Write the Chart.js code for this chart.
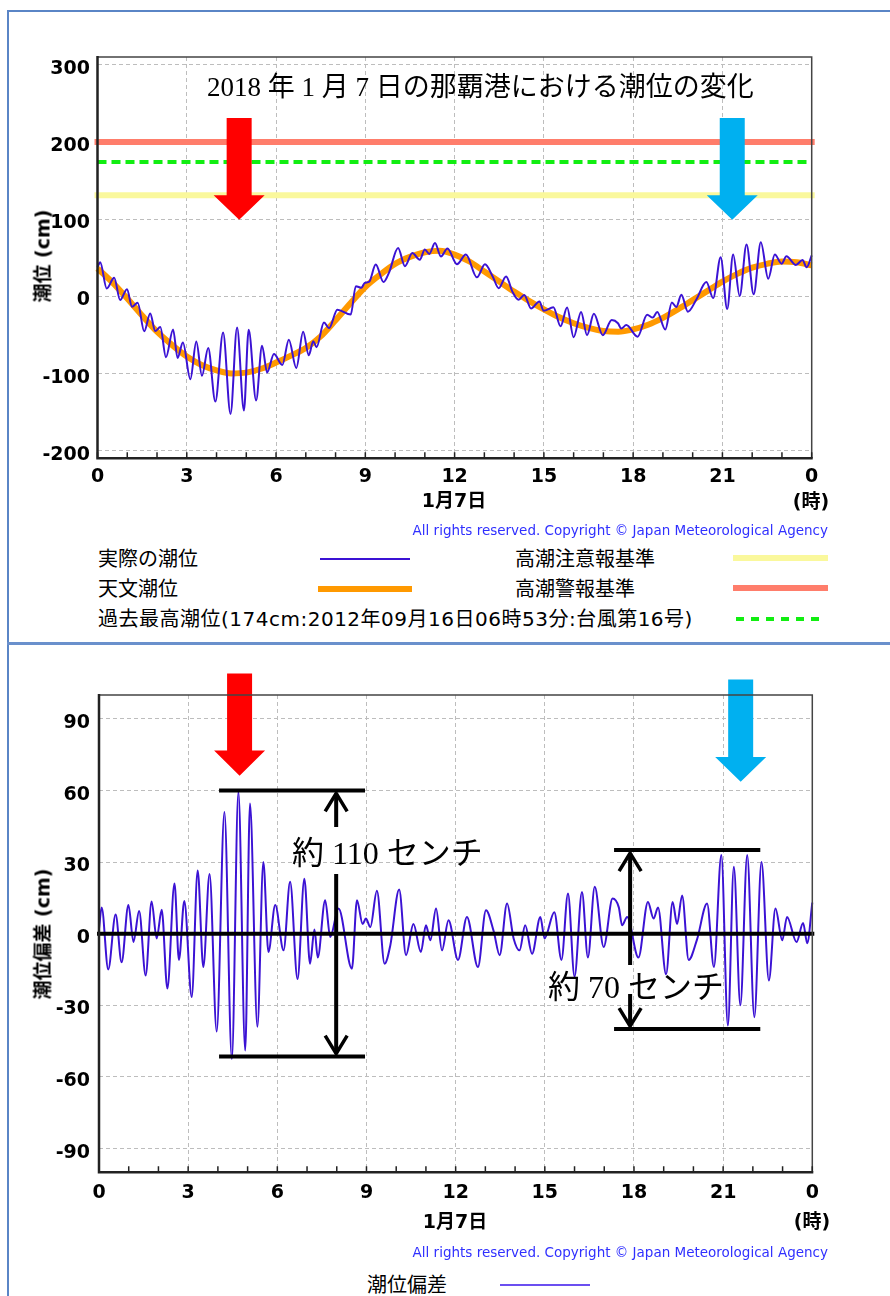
<!DOCTYPE html>
<html><head><meta charset="utf-8">
<script src="https://cdn.jsdelivr.net/npm/chart.js@4.4.1/dist/chart.umd.min.js"></script>
<style>
html,body{margin:0;padding:0;background:#fff;}
body{width:890px;height:1296px;position:relative;overflow:hidden;font-family:"DejaVu Sans","Noto Sans CJK JP",sans-serif;color:#000;}
.t{position:absolute;white-space:nowrap;line-height:1;}
.cjk{font-family:"DejaVu Sans","Noto Sans CJK JP",sans-serif;font-size:20px;transform:translateY(-50%);}
.bold{font-weight:bold;font-size:19px;font-family:"DejaVu Sans","Noto Sans CJK JP",sans-serif;}
.serif{font-family:"Liberation Serif","Noto Sans CJK JP",serif;}
.copy{font-size:13.5px;color:#3030ff;font-family:"DejaVu Sans",sans-serif;transform:translate(-100%,-50%);}
canvas{position:absolute;left:0;}
.bar{position:absolute;}
</style>
</head><body>
<div class="bar" style="left:7px;top:10px;width:2px;height:1290px;background:#5a85c6;"></div>
<div class="bar" style="left:7px;top:10px;width:890px;height:2px;background:#5a85c6;"></div>
<div class="bar" style="left:7px;top:642px;width:890px;height:3px;background:#6a90cc;"></div>

<canvas id="c1" width="890" height="490" style="top:0;"></canvas>
<canvas id="c2" width="890" height="580" style="top:640px;"></canvas>

<div class="t serif" style="left:207px;top:87px;font-size:27px;transform:translateY(-50%);">2018 年 1 月 7 日の那覇港における潮位の変化</div>
<div class="t bold" style="left:43px;top:256px;transform:translate(-50%,-50%) rotate(-90deg);">潮位 (cm)</div>
<div class="t bold" style="left:454px;top:500px;transform:translate(-50%,-50%);">1月7日</div>
<div class="t bold" style="left:811px;top:501px;transform:translate(-50%,-50%);">(時)</div>
<div class="t copy" style="left:828px;top:531px;">All rights reserved. Copyright © Japan Meteorological Agency</div>

<div class="t cjk" style="left:98px;top:559px;">実際の潮位</div>
<div class="bar" style="left:320px;top:558px;width:90px;height:2px;background:#3b12d4;"></div>
<div class="t cjk" style="left:98px;top:589px;">天文潮位</div>
<div class="bar" style="left:318px;top:586px;width:94px;height:6px;background:#ff9900;"></div>
<div class="t cjk" style="left:98px;top:619px;letter-spacing:0.5px;">過去最高潮位(174cm:2012年09月16日06時53分:台風第16号)</div>
<div class="t cjk" style="left:515px;top:559px;">高潮注意報基準</div>
<div class="bar" style="left:733px;top:555px;width:95px;height:6px;background:#faf89c;"></div>
<div class="t cjk" style="left:515px;top:589px;">高潮警報基準</div>
<div class="bar" style="left:733px;top:585px;width:95px;height:6px;background:#ff7d6b;"></div>
<div class="bar" style="left:736px;top:617px;width:84px;height:4px;background:repeating-linear-gradient(90deg,#11ee11 0 8px,transparent 8px 15px);"></div>

<div class="t bold" style="left:43px;top:934px;transform:translate(-50%,-50%) rotate(-90deg);">潮位偏差 (cm)</div>
<div class="t serif" style="left:292px;top:853px;font-size:32px;transform:translateY(-50%);">約 110 センチ</div>
<div class="t serif" style="left:548px;top:987px;font-size:32px;transform:translateY(-50%);">約 70 センチ</div>
<div class="t bold" style="left:455px;top:1221px;transform:translate(-50%,-50%);">1月7日</div>
<div class="t bold" style="left:812px;top:1221px;transform:translate(-50%,-50%);">(時)</div>
<div class="t copy" style="left:828px;top:1253px;">All rights reserved. Copyright © Japan Meteorological Agency</div>
<div class="t cjk" style="left:367px;top:1285px;">潮位偏差</div>
<div class="bar" style="left:500px;top:1284px;width:90px;height:2px;background:#6b4ff0;"></div>

<script>
// ---------- data ----------
const xTickHours  = [0, 3, 6, 9, 12, 15, 18, 21, 24];
const xTickLabels = ['0', '3', '6', '9', '12', '15', '18', '21', '0'];
const minorHours  = [1,2,4,5,7,8,10,11,13,14,16,17,19,20,22,23];
const tideYTicks  = [-200, -100, 0, 100, 200, 300];
const devYTicks   = [-90, -60, -30, 0, 30, 60, 90];

const advisoryLevel = 131;  // 高潮注意報基準
const warningLevel  = 200;  // 高潮警報基準
const recordLevel   = 174;  // 過去最高潮位

// astronomical tide (天文潮位), every half hour
const astroHours = [0,0.5,1,1.5,2,2.5,3,3.5,4,4.5,5,5.5,6,6.5,7,7.5,8,8.5,9,9.5,
  10,10.5,11,11.5,12,12.5,13,13.5,14,14.5,15,15.5,16,16.5,17,17.5,18,18.5,19,19.5,
  20,20.5,21,21.5,22,22.5,23,23.5,24];
const astroTide = [36,18,-3,-25,-46,-63,-78,-89,-96,-100,-99,-94,-86,-77,-67,-52,-31,-9,12,28,
  42,51,57,59,54,45,32,19,6,-6,-17,-27,-35,-41,-45,-46,-43,-37,-28,-17,
  -5,7,19,29,37,42,45,44,40];

// times of read extrema (hours)
const obsHours = [
  0,0.09,0.31,0.56,0.76,0.99,1.16,1.35,1.57,1.77,
  1.94,2.11,2.30,2.54,2.69,2.87,3.12,3.32,3.51,3.72,
  3.96,4.22,4.47,4.69,4.92,5.08,5.33,5.53,5.70,5.93,
  6.21,6.43,6.68,6.91,7.10,7.25,7.36,7.61,7.78,8.06,
  8.51,8.68,8.87,8.98,9.13,9.35,9.61,9.80,10.10,10.33,
  10.58,10.83,11.00,11.15,11.34,11.54,11.76,12.08,12.38,12.75,
  13.02,13.28,13.48,13.73,13.95,14.15,14.34,14.57,14.85,14.99,
  15.32,15.56,15.78,16.00,16.25,16.45,16.68,16.98,17.28,17.49,
  17.60,17.77,18.15,18.47,18.66,18.81,19.08,19.30,19.45,19.62,
  19.84,20.12,20.46,20.69,20.94,21.16,21.36,21.58,21.81,22.05,
  22.29,22.54,22.76,22.99,23.15,23.47,23.69,23.83,24.00];

// observed tide (実際の潮位)
const observedTide = [
  38,44,10,24,-5,9,-13.5,-8.5,-45.5,-22.5,
  -45,-40,-79,-43,-80,-60,-107.5,-58.5,-103,-67,
  -136.5,-47,-152.5,-40.5,-148,-43.5,-135,-64,-98.7,-75,
  -89,-56.3,-93,-46,-76.6,-58.3,-66,-34,-41.4,-17.5,
  -23.7,13,11,17.3,18.8,41,18.4,31,62.5,39,
  56,47.3,60.5,54.8,68.9,51.6,62,41.6,54,24.5,
  41.3,25.7,10.5,25.6,5.3,-4.6,1.5,-15.9,-6.7,-18.8,
  -14.4,-39,-14.7,-53,-20.5,-50.4,-22.8,-50.6,-30.9,-35,
  -41.9,-37.4,-52.4,-24.1,-27.7,-20.4,-43.2,-8.1,-14,2,
  -20,-4.5,18.6,-2.4,50.6,-16.5,54,0.3,67,2.5,
  70,22.6,54.1,42.2,51.7,40.5,47,37.4,53];

// tide deviation (潮位偏差)
const tideDeviation = [
  2,11,-15,8,-12,12,-3.5,9.5,-17.5,13.5,
  -2,10,-23,21,-11,13.7,-26.5,26.5,-14,25,
  -41,51,-52.5,59.5,-49,54.5,-39,30,-7.7,12,
  -7,21.7,-19,23,-12.6,1.7,-10,14,-1.4,10.5,
  -14.7,14,4,6.3,2.8,18,-12.6,-5,18.5,-9,
  4,-7.7,3.5,-2.8,10.5,-7,5.6,-11,7,-14,
  9.8,1,-9,12.6,-2,-7,3.5,-8.4,7,-2,
  9,-11,16.8,-18,17.5,-10,19.6,-5.6,14.7,11,
  3.5,7,-10,13.3,6.3,11,-17,13.3,4,16,
  -11,-2.5,12.6,-14,33,-38.5,28,-30,33,-35,
  30,-19.6,10.5,-2.8,7,-3.5,4.5,-4,13];

// ---------- annotation settings (data space) ----------
const tideArrows = [
  {hour: 4.76, top: 231, head: 131, tip: 99, color: '#ff0000'},
  {hour: 21.33, top: 231, head: 131, tip: 99, color: '#00b0f0'}];
const devArrows = [
  {hour: 4.73, top: 109, head: 76.7, tip: 66.2, color: '#ff0000'},
  {hour: 21.59, top: 106.5, head: 74, tip: 63.6, color: '#00b0f0'}];
const brackets = [
  {from: 4.04, to: 8.95, hi: 60, lo: -51.5, at: 7.98, gapTop: 44.7, gapBottom: 25},
  {from: 17.33, to: 22.25, hi: 35, lo: -40, at: 17.87, gapTop: -13.1, gapBottom: -25.3}];

// ---------- helpers ----------
const pts = (xs, ys) => xs.map((x, i) => ({x, y: ys[i]}));
const flat = (v) => [{x: 0, y: v}, {x: 24, y: v}];
const xTickFont = {family: 'DejaVu Sans', size: 19, weight: 'bold'};
const yTickFont = {family: 'DejaVu Sans', size: 19, weight: 'bold', lineHeight: 0.45};

function blockArrow(ctx, cx, top, headTop, tip, color) {
  const sw = 12.5, hw = 25.5;
  ctx.fillStyle = color;
  ctx.beginPath();
  ctx.moveTo(cx - sw, top); ctx.lineTo(cx + sw, top); ctx.lineTo(cx + sw, headTop);
  ctx.lineTo(cx + hw, headTop); ctx.lineTo(cx, tip); ctx.lineTo(cx - hw, headTop);
  ctx.lineTo(cx - sw, headTop); ctx.closePath(); ctx.fill();
}

function framePlugin(id) {
  return {
    id,
    afterDraw(chart) {
      const {ctx, chartArea: a} = chart;
      const xs = chart.scales.x;
      ctx.save();
      ctx.strokeStyle = '#444'; ctx.lineWidth = 1.5;
      ctx.beginPath();
      ctx.moveTo(a.left, a.top); ctx.lineTo(a.right, a.top); ctx.lineTo(a.right, a.bottom);
      ctx.stroke();
      ctx.strokeStyle = '#222'; ctx.lineWidth = 2.5;
      ctx.beginPath();
      ctx.moveTo(a.left, a.top - 1); ctx.lineTo(a.left, a.bottom); ctx.lineTo(a.right + 1, a.bottom);
      ctx.stroke();
      ctx.lineWidth = 1.5;
      ctx.beginPath();
      for (const h of minorHours.concat(xTickHours)) {
        const px = xs.getPixelForValue(h);
        ctx.moveTo(px, a.bottom); ctx.lineTo(px, a.bottom - 6);
      }
      ctx.stroke();
      ctx.restore();
    }
  };
}

const tideArrowPlugin = {
  id: 'tideArrows',
  afterDatasetsDraw(chart) {
    const {ctx} = chart; const xs = chart.scales.x, ys = chart.scales.y;
    ctx.save();
    for (const ar of tideArrows) {
      blockArrow(ctx, xs.getPixelForValue(ar.hour), ys.getPixelForValue(ar.top),
        ys.getPixelForValue(ar.head), ys.getPixelForValue(ar.tip), ar.color);
    }
    ctx.restore();
  }
};

function chevron(ctx, x, y, dir) {
  ctx.beginPath();
  ctx.moveTo(x - 11, y + dir * 19); ctx.lineTo(x, y + dir * 1); ctx.lineTo(x + 11, y + dir * 19);
  ctx.stroke();
}

const devAnnoPlugin = {
  id: 'devAnno',
  afterDatasetsDraw(chart) {
    const {ctx, chartArea: a} = chart; const xs = chart.scales.x, ys = chart.scales.y;
    ctx.save();
    ctx.strokeStyle = '#000'; ctx.lineWidth = 4; ctx.lineCap = 'butt'; ctx.lineJoin = 'miter';
    const y0 = ys.getPixelForValue(0);
    ctx.beginPath(); ctx.moveTo(a.left - 2, y0); ctx.lineTo(a.right + 2, y0); ctx.stroke();
    for (const b of brackets) {
      const x1 = xs.getPixelForValue(b.from), x2 = xs.getPixelForValue(b.to), xm = xs.getPixelForValue(b.at);
      const yh = ys.getPixelForValue(b.hi), yl = ys.getPixelForValue(b.lo);
      const g1 = ys.getPixelForValue(b.gapTop), g2 = ys.getPixelForValue(b.gapBottom);
      ctx.beginPath();
      ctx.moveTo(x1, yh); ctx.lineTo(x2, yh);
      ctx.moveTo(x1, yl); ctx.lineTo(x2, yl);
      ctx.moveTo(xm, yh + 3); ctx.lineTo(xm, g1);
      ctx.moveTo(xm, g2); ctx.lineTo(xm, yl - 3);
      ctx.stroke();
      ctx.lineWidth = 3.5;
      chevron(ctx, xm, yh + 2, 1);
      chevron(ctx, xm, yl - 2, -1);
      ctx.lineWidth = 4;
    }
    for (const ar of devArrows) {
      blockArrow(ctx, xs.getPixelForValue(ar.hour), ys.getPixelForValue(ar.top),
        ys.getPixelForValue(ar.head), ys.getPixelForValue(ar.tip), ar.color);
    }
    ctx.restore();
  }
};

function xScale(pad) {
  return {
    type: 'linear', min: 0, max: 24,
    afterBuildTicks: s => { s.ticks = xTickHours.map(v => ({value: v})); },
    afterFit: s => { s.height = pad.h; },
    ticks: {callback: (v, i) => xTickLabels[i], font: xTickFont, color: '#000', padding: pad.p, maxRotation: 0, autoSkip: false},
    grid: {color: '#bdbdbd', lineWidth: 1, drawTicks: false},
    border: {display: false, dash: [4, 3]}
  };
}
function yScale(min, max, ticks, w, p) {
  return {
    type: 'linear', min, max,
    afterBuildTicks: s => { s.ticks = ticks.map(v => ({value: v})); },
    afterFit: s => { s.width = w; },
    ticks: {callback: v => ['', String(v)], font: yTickFont, color: '#000', padding: p},
    grid: {color: '#bdbdbd', lineWidth: 1, drawTicks: false},
    border: {display: false, dash: [4, 3]}
  };
}

const common = {
  responsive: false, animation: false, devicePixelRatio: 1, events: [],
  plugins: {legend: {display: false}, tooltip: {enabled: false}},
  elements: {point: {radius: 0}}
};

new Chart(document.getElementById('c1'), {
  type: 'line',
  data: {datasets: [
    {data: pts(obsHours, observedTide), borderColor: '#3b12d4', borderWidth: 2, cubicInterpolationMode: 'monotone', clip: false},
    {data: pts(astroHours, astroTide), borderColor: '#ff9900', borderWidth: 6, cubicInterpolationMode: 'monotone', clip: false},
    {data: flat(recordLevel), borderColor: '#11ee11', borderWidth: 4, borderDash: [9, 5], clip: false},
    {data: flat(warningLevel), borderColor: '#ff7d6b', borderWidth: 6, borderCapStyle: 'square', clip: false},
    {data: flat(advisoryLevel), borderColor: '#faf89c', borderWidth: 6, borderCapStyle: 'square', clip: false}
  ]},
  options: Object.assign({}, common, {
    layout: {padding: {left: 0, top: 57, right: 78.3, bottom: 0}},
    scales: {x: xScale({h: 31.7, p: 7}), y: yScale(-210, 310, tideYTicks, 97.5, 7.5)}
  }),
  plugins: [tideArrowPlugin, framePlugin('f1')]
});

new Chart(document.getElementById('c2'), {
  type: 'line',
  data: {datasets: [
    {data: pts(obsHours, tideDeviation), borderColor: '#3b12d4', borderWidth: 2, cubicInterpolationMode: 'monotone', clip: false}
  ]},
  options: Object.assign({}, common, {
    layout: {padding: {left: 0, top: 55, right: 77.7, bottom: 0}},
    scales: {x: xScale({h: 47.7, p: 9.5}), y: yScale(-100, 100, devYTicks, 99, 9)}
  }),
  plugins: [devAnnoPlugin, framePlugin('f2')]
});
</script>
</body></html>
